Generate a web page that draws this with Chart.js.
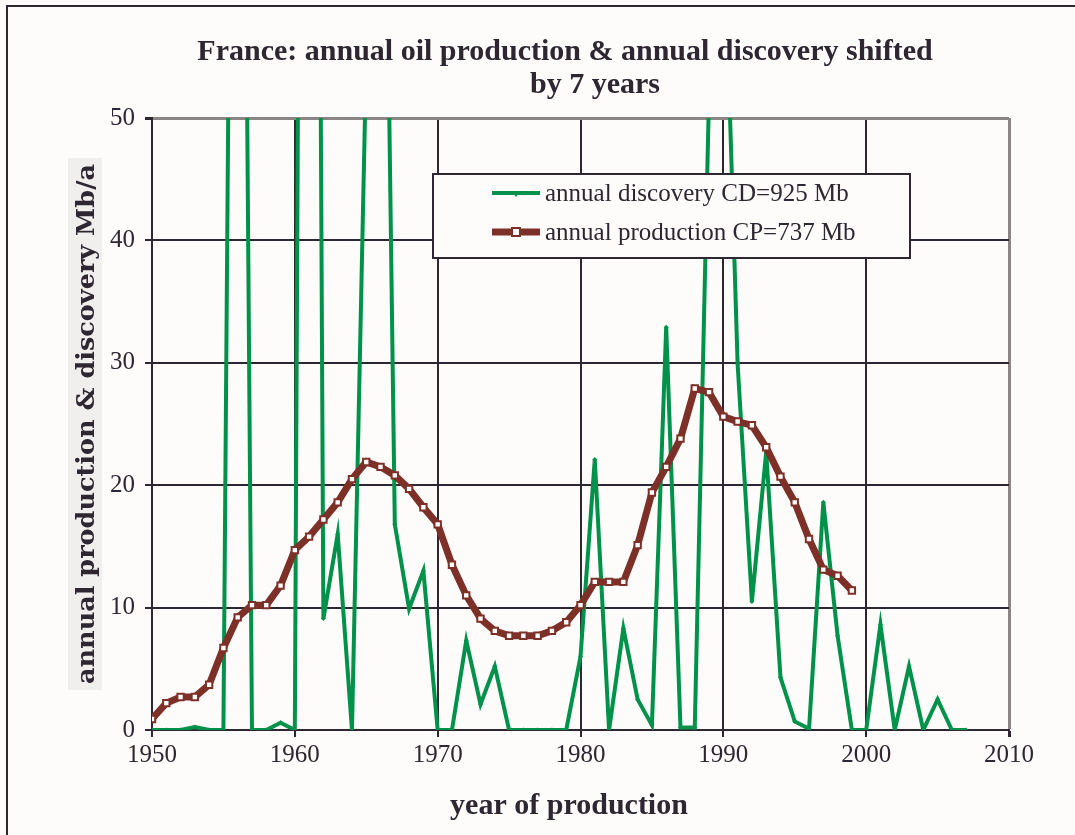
<!DOCTYPE html>
<html>
<head>
<meta charset="utf-8">
<script src="https://cdn.jsdelivr.net/npm/chart.js@4/dist/chart.umd.min.js"></script>
<style>
  body { margin: 0; background: #fdfcfa; }
  canvas { display: block; }
</style>
</head>
<body>
<canvas id="oilChart" width="1075" height="835"></canvas>
<script>
// France: annual oil production vs discovery (shifted 7 years)
const discoveryYears = [
  1950, 1951, 1952, 1953, 1954, 1955, 1956, 1957, 1958, 1959,
  1960, 1961, 1962, 1963, 1964, 1965, 1966, 1967, 1968, 1969,
  1970, 1971, 1972, 1973, 1974, 1975, 1976, 1977, 1978, 1979,
  1980, 1981, 1982, 1983, 1984, 1985, 1986, 1987, 1988, 1989,
  1990, 1991, 1992, 1993, 1994, 1995, 1996, 1997, 1998, 1999,
  2000, 2001, 2002, 2003, 2004, 2005, 2006, 2007
];
const discovery = [
  0, 0, 0, 0.25, 0, 0, 150, 0, 0, 0.6,
  0, 235, 9.1, 16.0, 0, 55, 103, 16.8, 9.9, 13.0,
  0, 0, 7.3, 2.1, 5.2, 0, 0, 0, 0, 0,
  6.0, 22.1, 0, 8.3, 2.5, 0.4, 32.9, 0.2, 0.2, 52,
  68, 29.9, 10.5, 22.7, 4.3, 0.7, 0.1, 18.6, 7.7, 0,
  0, 8.6, 0, 5.2, 0, 2.5, 0, 0
];
const productionYears = discoveryYears.slice(0, 50); // 1950..1999
const production = [
  0.9, 2.2, 2.7, 2.7, 3.7, 6.7, 9.2, 10.2, 10.2, 11.8,
  14.7, 15.8, 17.2, 18.6, 20.5, 21.9, 21.5, 20.8, 19.7, 18.2,
  16.8, 13.5, 11.0, 9.1, 8.1, 7.7, 7.7, 7.7, 8.1, 8.8,
  10.2, 12.1, 12.1, 12.1, 15.1, 19.4, 21.5, 23.8, 27.9, 27.6,
  25.6, 25.2, 24.9, 23.1, 20.7, 18.6, 15.6, 13.1, 12.6, 11.4
];
const xTicks = [1950, 1960, 1970, 1980, 1990, 2000, 2010];
const yTicks = [0, 10, 20, 30, 40, 50];

const titleLines = ['France: annual oil production & annual discovery shifted', 'by 7 years'];
const xTitle = 'year of production';
const yTitle = 'annual production & discovery Mb/a';

const GREEN = '#00924a';
const BROWN = '#7d3028';
const INK = '#2e2630';
const PAPER = '#fdfcfa';
const SERIF = '"Liberation Serif", "Times New Roman", serif';

const decor = {
  id: 'decor',
  beforeDraw(chart) {
    const c = chart.ctx;
    c.save();
    c.fillStyle = PAPER;
    c.fillRect(0, 0, chart.width, chart.height);
    // outer frame (top + left)
    c.strokeStyle = INK;
    c.lineWidth = 2;
    c.beginPath();
    c.moveTo(7, chart.height);
    c.lineTo(7, 6);
    c.lineTo(chart.width, 6);
    c.stroke();
    // grey strip behind the y title
    c.fillStyle = '#f1efee';
    c.fillRect(68, 158, 34, 532);
    c.restore();
  },
  afterDraw(chart) {
    const c = chart.ctx;
    c.save();
    c.fillStyle = INK;
    c.textAlign = 'center';
    c.textBaseline = 'middle';
    c.font = 'bold 30px ' + SERIF;
    c.fillText(titleLines[0], 565, 52);
    c.fillText(titleLines[1], 595, 85);

    c.font = 'bold 30px ' + SERIF;
    c.fillText(xTitle, 569, 806);

    // y title: wide bold serif squeezed to the reference length
    c.save();
    c.translate(86, 424);
    c.rotate(-Math.PI / 2);
    c.font = 'bold 25px "DejaVu Serif", serif';
    const w = c.measureText(yTitle).width;
    c.scale(520 / w, 1);
    c.fillText(yTitle, 0, 1);
    c.restore();

    // legend box
    c.fillStyle = PAPER;
    c.fillRect(433, 174, 477, 84);
    c.strokeStyle = INK;
    c.lineWidth = 2;
    c.strokeRect(433, 174, 477, 84);
    c.textAlign = 'left';
    c.font = '25px ' + SERIF;
    const rows = [193, 232];
    chart.data.datasets.forEach((ds, i) => {
      const y = rows[i];
      c.strokeStyle = ds.borderColor;
      c.lineWidth = ds.borderWidth;
      c.beginPath();
      c.moveTo(492, y);
      c.lineTo(540, y);
      c.stroke();
      if (ds.pointStyle === 'rect') {
        c.fillStyle = '#ffffff';
        c.strokeStyle = ds.borderColor;
        c.lineWidth = 2;
        c.fillRect(512, y - 4, 8, 8);
        c.strokeRect(512, y - 4, 8, 8);
      } else {
        c.fillStyle = ds.borderColor;
        c.beginPath();
        c.moveTo(513, y);
        c.lineTo(519, y);
        c.lineTo(516, y + 4);
        c.closePath();
        c.fill();
      }
      c.fillStyle = INK;
      c.fillText(ds.label, 545, y + 1);
    });
    c.restore();
  }
};

const toPoints = (xs, ys) => ys.map((v, i) => ({ x: xs[i], y: v }));

new Chart(document.getElementById('oilChart'), {
  type: 'line',
  data: {
    datasets: [{
      label: 'annual discovery CD=925 Mb',
      data: toPoints(discoveryYears, discovery),
      borderColor: GREEN,
      backgroundColor: GREEN,
      borderWidth: 4,
      pointStyle: 'rectRot',
      pointRadius: 2.5,
      pointBorderWidth: 0,
      tension: 0,
      order: 1,
      clip: 0
    }, {
      label: 'annual production CP=737 Mb',
      data: toPoints(productionYears, production),
      borderColor: BROWN,
      backgroundColor: '#ffffff',
      borderWidth: 7,
      pointStyle: 'rect',
      pointRadius: 4.5,
      pointBorderWidth: 2,
      pointBorderColor: BROWN,
      pointBackgroundColor: '#ffffff',
      tension: 0,
      order: 0,
      clip: 0
    }]
  },
  options: {
    responsive: false,
    animation: false,
    events: [],
    layout: { padding: { top: 118, right: 66, bottom: 0, left: 0 } },
    plugins: {
      legend: { display: false },
      title: { display: false },
      tooltip: { enabled: false }
    },
    scales: {
      x: {
        type: 'linear',
        min: 1950,
        max: 2010,
        afterFit: s => { s.height = 105; },
        afterBuildTicks: s => { s.ticks = xTicks.map(v => ({ value: v })); },
        ticks: {
          color: INK,
          font: { family: SERIF, size: 25 },
          padding: 3,
          maxRotation: 0,
          callback: v => String(v)
        },
        grid: {
          color: ctx => (ctx.tick && ctx.tick.value === 2010 ? '#8c8585' : INK),
          lineWidth: ctx => (ctx.tick && ctx.tick.value === 2010 ? 3 : 2),
          tickColor: INK,
          tickLength: 7
        },
        border: { color: INK, width: 2 }
      },
      y: {
        min: 0,
        max: 50,
        afterFit: s => { s.width = 152; },
        afterBuildTicks: s => { s.ticks = yTicks.map(v => ({ value: v })); },
        ticks: {
          color: INK,
          font: { family: SERIF, size: 25 },
          padding: 10
        },
        grid: {
          color: ctx => (ctx.tick && ctx.tick.value === 50 ? '#8c8585' : INK),
          lineWidth: ctx => (ctx.tick && ctx.tick.value === 50 ? 3 : 2),
          tickColor: INK,
          tickLength: 7
        },
        border: { color: INK, width: 2 }
      }
    }
  },
  plugins: [decor]
});
</script>
</body>
</html>
